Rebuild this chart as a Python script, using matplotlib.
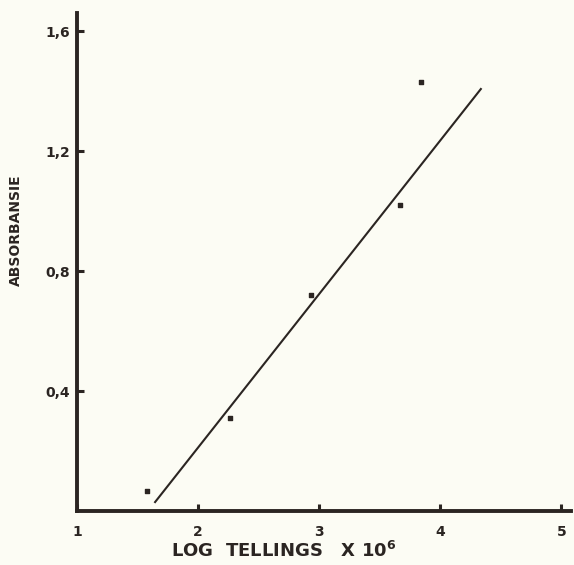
import matplotlib
matplotlib.use('Agg')
import matplotlib.pyplot as plt

# data
log_tellings = [1.58, 2.26, 2.93, 3.67, 3.84]
absorbansie = [0.065, 0.31, 0.72, 1.02, 1.43]

# fitted line endpoints
line_x = [1.64, 4.34]
line_y = [0.027, 1.41]

y_ticks = [0.4, 0.8, 1.2, 1.6]
y_tick_labels = ['0,4', '0,8', '1,2', '1,6']
x_ticks = [1, 2, 3, 4, 5]
x_tick_labels = ['1', '2', '3', '4', '5']

ink = '#2b2522'
paper = '#fcfcf4'

fig = plt.figure(figsize=(5.74, 5.65), dpi=100, facecolor=paper)
ax = fig.add_axes([0.134, 0.0956, 0.861, 0.881], facecolor=paper)

ax.plot(line_x, line_y, color=ink, lw=1.5, solid_capstyle='butt')
ax.scatter(log_tellings, absorbansie, s=7, color=ink, marker='s', zorder=3)

ax.set_xlim(1, 5.08)
ax.set_ylim(0, 1.66)

for side in ['top', 'right']:
    ax.spines[side].set_visible(False)
for side in ['left', 'bottom']:
    ax.spines[side].set_linewidth(2.8)
    ax.spines[side].set_color(ink)

ax.set_xticks(x_ticks)
ax.set_xticklabels(x_tick_labels)
ax.set_yticks(y_ticks)
ax.set_yticklabels(y_tick_labels)
ax.tick_params(axis='both', direction='in', length=5, width=2.2, color=ink,
               labelcolor=ink, labelsize=10)
ax.tick_params(axis='x', pad=10)
ax.tick_params(axis='y', pad=5)
for lab in ax.get_xticklabels() + ax.get_yticklabels():
    lab.set_fontweight('bold')

# axis titles placed like in the scan
fig.text(0.495, 0.024, 'LOG  TELLINGS   X 10$^{\\mathbf{6}}$', fontsize=13,
         fontweight='bold', color=ink, ha='center', va='center')
fig.text(0.027, 0.593, 'ABSORBANSIE', fontsize=10, fontweight='bold',
         color=ink, ha='center', va='center', rotation=90)

fig.savefig('out.png', dpi=100, facecolor=paper)
